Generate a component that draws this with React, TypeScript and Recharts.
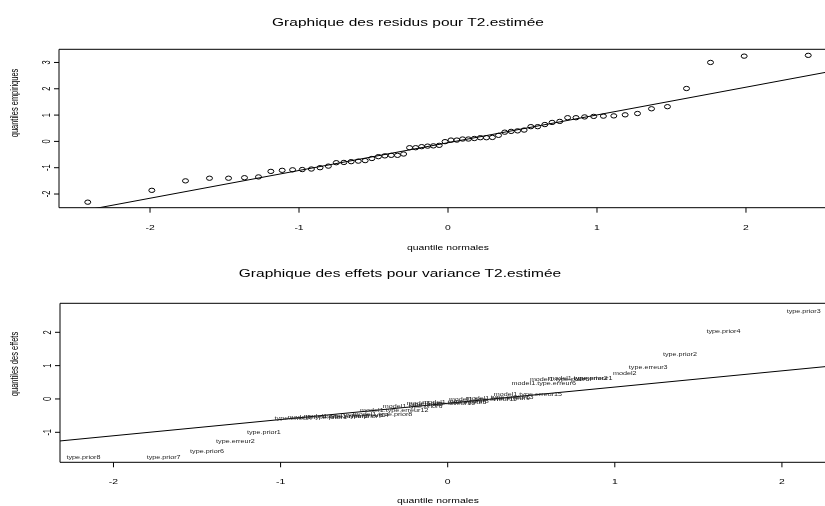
import { ReferenceArea, ReferenceLine, Scatter, ScatterChart, XAxis, YAxis } from "recharts";

const FONT = '"Liberation Sans", Arial, Helvetica, sans-serif';
// the original R figure was squeezed vertically when it was resized
const SQUASH = 0.72;

// ---- top panel: qq-plot of the residuals ----
const residNormal = [
  -2.418, -1.988, -1.762, -1.601, -1.473, -1.366, -1.272, -1.189, -1.113, -1.043, -0.978,
  -0.917, -0.859, -0.803, -0.75, -0.699, -0.65, -0.602, -0.556, -0.511, -0.467, -0.424,
  -0.381, -0.339, -0.298, -0.258, -0.217, -0.177, -0.137, -0.098, -0.059, -0.02,
  0.02, 0.059, 0.098, 0.137, 0.177, 0.217, 0.258, 0.298, 0.339, 0.381, 0.424, 0.467,
  0.511, 0.556, 0.602, 0.65, 0.699, 0.75, 0.803, 0.859, 0.917, 0.978, 1.043, 1.113,
  1.189, 1.272, 1.366, 1.473, 1.601, 1.762, 1.988, 2.418,
];
const residEmpirical = [
  -2.31, -1.86, -1.5, -1.4, -1.4, -1.38, -1.35, -1.14, -1.1, -1.08, -1.07, -1.05, -1.0,
  -0.94, -0.81, -0.8, -0.77, -0.75, -0.73, -0.65, -0.58, -0.55, -0.53, -0.53, -0.48,
  -0.24, -0.24, -0.2, -0.18, -0.17, -0.15, -0.01,
  0.05, 0.05, 0.09, 0.09, 0.11, 0.14, 0.14, 0.15, 0.23, 0.35, 0.38, 0.4, 0.43, 0.56,
  0.56, 0.64, 0.72, 0.76, 0.9, 0.9, 0.93, 0.95, 0.96, 0.97, 1.01, 1.06, 1.24, 1.32,
  2.01, 3.0, 3.24, 3.27,
];
const residTicksX = [-2, -1, 0, 1, 2];
const residTicksY = [-2, -1, 0, 1, 2, 3];
const residDomainX: [number, number] = [-2.611, 2.611];
const residDomainY: [number, number] = [-2.52, 3.5];
const residLine = { intercept: -0.05, slope: 1.055 };

// ---- bottom panel: qq-plot of the effects ----
const effectLabels = [
  "type.prior8", "type.prior7", "type.prior6", "type.erreur2", "type.prior1",
  "type.erreur7", "model1.type.prior1", "model1.type.erreur2", "model1.type.prior7",
  "type.erreur14", "model1.type.prior8", "model1.type.erreur12", "model1.type.prior6",
  "type.prior5", "model1.type.erreur10", "model1.type.erreur5", "type.erreur8",
  "model1.type.erreur11", "model1.type.erreur9", "type.erreur13", "model1.type.erreur15",
  "model1.type.erreur6", "model1.type.prior3", "model1.type.prior2", "type.erreur1",
  "model2", "type.erreur3", "type.prior2", "type.prior4", "type.prior3",
];
const effectNormal = [
  -2.18, -1.7, -1.44, -1.27, -1.1, -0.92, -0.78, -0.67, -0.57, -0.48, -0.39, -0.32,
  -0.21, -0.13, -0.04, 0.04, 0.13, 0.21, 0.3, 0.385, 0.48, 0.575, 0.67, 0.78, 0.87,
  1.06, 1.2, 1.39, 1.65, 2.13,
];
const effectEmpirical = [
  -1.75, -1.75, -1.56, -1.26, -0.98, -0.56, -0.53, -0.52, -0.51, -0.49, -0.46, -0.34,
  -0.2, -0.16, -0.11, -0.08, -0.05, -0.01, 0.02, 0.05, 0.15, 0.49, 0.6, 0.62, 0.63,
  0.79, 0.97, 1.35, 2.04, 2.65,
];
const effectTicksX = [-2, -1, 0, 1, 2];
const effectTicksY = [-1, 0, 1, 2];
const effectDomainX: [number, number] = [-2.32, 2.32];
const effectDomainY: [number, number] = [-1.9, 2.87];
const effectLine = { intercept: -0.13, slope: 0.487 };

const residData = residNormal.map((x, i) => ({ x, y: residEmpirical[i] }));
const effectData = effectNormal.map((x, i) => ({ x, y: effectEmpirical[i], label: effectLabels[i] }));

function XTick({ x, y, payload }: any) {
  return (
    <text
      transform={`translate(${x},${y + 17}) scale(1,${SQUASH})`}
      textAnchor="middle"
      fontSize={10.4}
      fontFamily={FONT}
      fill="#000"
    >
      {payload.value}
    </text>
  );
}

function YTick({ x, y, payload }: any) {
  return (
    <text
      transform={`translate(${x - 4.3},${y}) scale(1,${SQUASH}) rotate(-90)`}
      textAnchor="middle"
      fontSize={10.4}
      fontFamily={FONT}
      fill="#000"
    >
      {payload.value}
    </text>
  );
}

function Ring(props: any) {
  return (
    <ellipse cx={props.cx} cy={props.cy} rx={3} ry={3 * SQUASH} fill="none" stroke="#000" strokeWidth={1} />
  );
}

function EffectLabel(props: any) {
  return (
    <text
      transform={`translate(${props.cx},${props.cy}) scale(1,${SQUASH})`}
      textAnchor="middle"
      dominantBaseline="central"
      fontSize={7.2}
      fontFamily={FONT}
      fill="#222"
    >
      {props.payload.label}
    </text>
  );
}

function lineEnds(line: { intercept: number; slope: number }, xs: [number, number]) {
  const a = xs[0] - 1;
  const b = xs[1] + 1;
  return [
    { x: a, y: line.intercept + line.slope * a },
    { x: b, y: line.intercept + line.slope * b },
  ];
}

function Caption({ x, y, size, text, vertical }: { x: number; y: number; size: number; text: string; vertical?: boolean }) {
  return (
    <text
      transform={`translate(${x},${y}) scale(1,${SQUASH})${vertical ? " rotate(-90)" : ""}`}
      textAnchor="middle"
      fontSize={size}
      fontFamily={FONT}
      fill="#000"
    >
      {text}
    </text>
  );
}

export default function App() {
  return (
    <div
      style={{
        position: "absolute",
        left: 0,
        top: 0,
        width: 825,
        height: 506,
        overflow: "hidden",
        background: "#fff",
        filter: "grayscale(1)",
      }}
    >
      <div style={{ position: "absolute", left: 0, top: 0 }}>
        <ScatterChart width={880} height={250} margin={{ top: 49.3, right: 43, bottom: 12.3, left: 19 }}>
          <XAxis
            type="number"
            dataKey="x"
            domain={residDomainX}
            ticks={residTicksX}
            interval={0}
            allowDataOverflow
            axisLine={false}
            tickLine={{ stroke: "#000" }}
            tickSize={5}
            tickMargin={0}
            height={30}
            tick={<XTick />}
          />
          <YAxis
            type="number"
            dataKey="y"
            domain={residDomainY}
            ticks={residTicksY}
            interval={0}
            allowDataOverflow
            axisLine={false}
            tickLine={{ stroke: "#000" }}
            tickSize={5}
            tickMargin={0}
            width={40}
            tick={<YTick />}
          />
          <ReferenceArea
            x1={residDomainX[0]}
            x2={residDomainX[1]}
            y1={residDomainY[0]}
            y2={residDomainY[1]}
            fill="none"
            fillOpacity={0}
            stroke="#000"
            strokeWidth={1}
          />
          <ReferenceLine segment={lineEnds(residLine, residDomainX)} ifOverflow="hidden" stroke="#000" strokeWidth={1} />
          <Scatter data={residData} shape={<Ring />} isAnimationActive={false} />
        </ScatterChart>
      </div>

      <div style={{ position: "absolute", left: 0, top: 254 }}>
        <ScatterChart width={880} height={252} margin={{ top: 49.3, right: 44.6, bottom: 13.7, left: 20 }}>
          <XAxis
            type="number"
            dataKey="x"
            domain={effectDomainX}
            ticks={effectTicksX}
            interval={0}
            allowDataOverflow
            axisLine={false}
            tickLine={{ stroke: "#000" }}
            tickSize={5}
            tickMargin={0}
            height={30}
            tick={<XTick />}
          />
          <YAxis
            type="number"
            dataKey="y"
            domain={effectDomainY}
            ticks={effectTicksY}
            interval={0}
            allowDataOverflow
            axisLine={false}
            tickLine={{ stroke: "#000" }}
            tickSize={5}
            tickMargin={0}
            width={40}
            tick={<YTick />}
          />
          <ReferenceArea
            x1={effectDomainX[0]}
            x2={effectDomainX[1]}
            y1={effectDomainY[0]}
            y2={effectDomainY[1]}
            fill="none"
            fillOpacity={0}
            stroke="#000"
            strokeWidth={1}
          />
          <ReferenceLine segment={lineEnds(effectLine, effectDomainX)} ifOverflow="hidden" stroke="#000" strokeWidth={1} />
          <Scatter data={effectData} shape={<EffectLabel />} isAnimationActive={false} />
        </ScatterChart>
      </div>

      <svg width={825} height={506} style={{ position: "absolute", left: 0, top: 0, pointerEvents: "none" }}>
        <Caption x={408} y={26} size={15.5} text="Graphique des residus pour T2.estimée" />
        <Caption x={448} y={250} size={10.4} text="quantile normales" />
        <Caption x={18} y={103} size={10.4} text="quantiles empiriques" vertical />
        <Caption x={400} y={277} size={15.5} text="Graphique des effets pour variance T2.estimée" />
        <Caption x={438} y={503} size={10.4} text="quantile normales" />
        <Caption x={18} y={364} size={10.4} text="quantiles des effets" vertical />
      </svg>
    </div>
  );
}
